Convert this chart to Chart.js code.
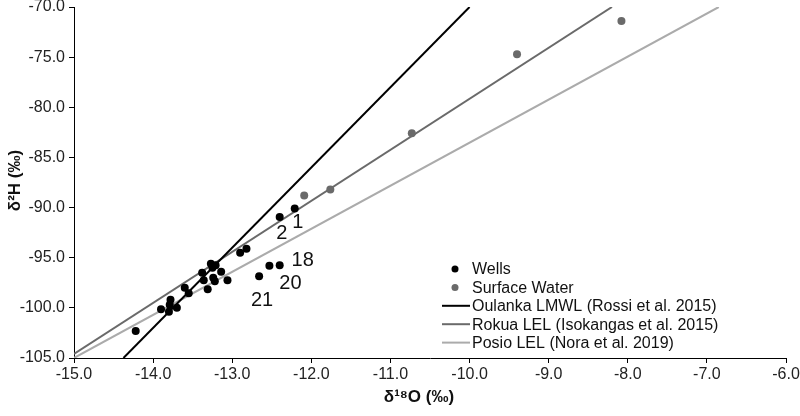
<!DOCTYPE html>
<html><head><meta charset="utf-8">
<script src="https://cdn.jsdelivr.net/npm/chart.js@4.4.0/dist/chart.umd.min.js"></script>
<style>html,body{margin:0;padding:0;background:#fff;}#wrap{width:800px;height:416px;}</style>
</head><body><div id="wrap"><canvas id="c" width="800" height="416"></canvas></div>
<script>
// Wells (black points)
const wellsX = [-14.22,-13.90,-13.78,-13.79,-13.80,-13.70,-13.60,-13.55,-13.38,-13.36,-13.31,-13.27,-13.25,-13.21,-13.24,-13.22,-13.14,-13.06,-12.90,-12.82,-12.66,-12.53,-12.40,-12.40,-12.21];
const wellsY = [-102.3,-100.15,-99.2,-99.7,-100.4,-100.0,-98.0,-98.55,-96.5,-97.25,-98.15,-95.6,-96.0,-95.75,-97.0,-97.35,-96.4,-97.25,-94.5,-94.1,-96.85,-95.8,-95.75,-90.95,-90.1];
// Surface water (grey points)
const surfaceX = [-12.09,-11.76,-10.73,-9.40,-8.08];
const surfaceY = [-88.8,-88.2,-82.6,-74.7,-71.4];
// Reference lines (end points)
const oulankaX = [-14.375,-10.0];
const oulankaY = [-105,-70];
const rokuaX = [-15.0,-8.2];
const rokuaY = [-104.6,-70];
const posioX = [-15.0,-6.85];
const posioY = [-105,-70];
// Point labels (index into wells arrays)
const labelTexts = ['1','2','18','20','21'];
const labelIndex = [24,23,22,21,20];
const labelDx = [3,2,23,21,3];
const labelDy = [14,16,-5,18,24];
// Axis ticks
const xMin=-15, xMax=-6, xStep=1;
const yMin=-105, yMax=-70, yStep=5;

const zip=(a,b)=>a.map((v,i)=>({x:v,y:b[i]}));
const FONT='"Liberation Sans", Arial, sans-serif';

const extras = {
  id:'extras',
  afterDraw(chart){
    const ctx=chart.ctx, ca=chart.chartArea, xs=chart.scales.x, ys=chart.scales.y;
    ctx.save();
    // point labels
    ctx.fillStyle='#111'; ctx.font='20px '+FONT; ctx.textAlign='center'; ctx.textBaseline='middle';
    labelTexts.forEach((t,k)=>{
      const i=labelIndex[k];
      ctx.fillText(t, xs.getPixelForValue(wellsX[i])+labelDx[k], ys.getPixelForValue(wellsY[i])+labelDy[k]);
    });
    // legend
    const ds=chart.data.datasets;
    const lx=ca.left+398, ly=ca.top+262, step=18.4;
    ctx.font='16px '+FONT; ctx.textAlign='left'; ctx.textBaseline='middle';
    ds.forEach((d,k)=>{
      const y=ly+k*step;
      if(d.showLine){
        ctx.strokeStyle=d.borderColor; ctx.lineWidth=2;
        ctx.beginPath(); ctx.moveTo(lx-30,y); ctx.lineTo(lx-2,y); ctx.stroke();
      } else {
        ctx.fillStyle=d.backgroundColor;
        ctx.beginPath(); ctx.arc(lx-17,y,3.5,0,Math.PI*2); ctx.fill();
      }
      ctx.fillStyle='#111';
      ctx.fillText(d.label,lx,y+1);
    });
    // axis titles
    ctx.fillStyle='#111'; ctx.font='bold 17px '+FONT; ctx.textAlign='center'; ctx.textBaseline='middle';
    ctx.fillText('δ\u00B9\u2078O (‰)', 419, 397);
    ctx.translate(15,(ca.top+ca.bottom)/2-2); ctx.rotate(-Math.PI/2);
    ctx.fillText('δ\u00B2H (‰)',0,0);
    ctx.restore();
  }
};

new Chart(document.getElementById('c'),{
  type:'scatter',
  data:{datasets:[
    {label:'Wells',data:zip(wellsX,wellsY),backgroundColor:'#000',borderColor:'#000',pointRadius:4,pointBorderWidth:0,showLine:false},
    {label:'Surface Water',data:zip(surfaceX,surfaceY),backgroundColor:'#6a6a6a',borderColor:'#6a6a6a',pointRadius:4,pointBorderWidth:0,showLine:false},
    {label:'Oulanka LMWL (Rossi et al. 2015)',data:zip(oulankaX,oulankaY),borderColor:'#000',backgroundColor:'#000',showLine:true,pointRadius:0,borderWidth:2},
    {label:'Rokua LEL (Isokangas et al. 2015)',data:zip(rokuaX,rokuaY),borderColor:'#6a6a6a',backgroundColor:'#6a6a6a',showLine:true,pointRadius:0,borderWidth:2},
    {label:'Posio LEL (Nora et al. 2019)',data:zip(posioX,posioY),borderColor:'#ababab',backgroundColor:'#ababab',showLine:true,pointRadius:0,borderWidth:2}
  ]},
  options:{
    responsive:false,animation:false,
    layout:{padding:{left:0,top:7,right:14,bottom:0}},
    plugins:{legend:{display:false},tooltip:{enabled:false}},
    scales:{
      x:{type:'linear',min:xMin,max:xMax,
        ticks:{stepSize:xStep,color:'#222',font:{family:FONT,size:16},padding:2,callback:v=>v.toFixed(1),maxRotation:0},
        grid:{drawOnChartArea:false,drawTicks:true,tickLength:5,color:'#000'},
        border:{display:true,color:'#000',width:1},
        afterFit(s){s.height=58;s.paddingLeft=0;s.paddingRight=0;}
      },
      y:{type:'linear',min:yMin,max:yMax,
        ticks:{stepSize:yStep,color:'#222',font:{family:FONT,size:16},padding:4,callback:v=>v.toFixed(1)},
        grid:{drawOnChartArea:false,drawTicks:true,tickLength:5,color:'#000'},
        border:{display:true,color:'#000',width:1},
        afterFit(s){s.width=74;s.paddingTop=0;s.paddingBottom=0;}
      }
    }
  },
  plugins:[extras]
});
</script></body></html>
